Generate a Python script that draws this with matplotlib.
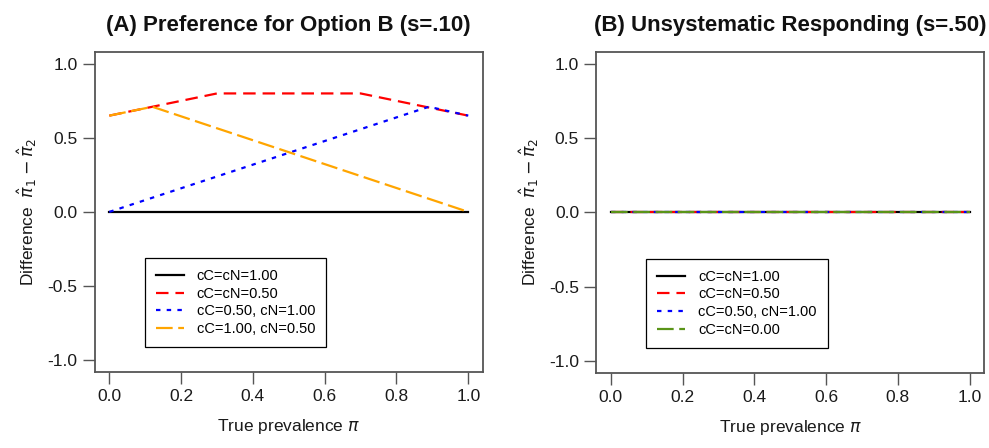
import numpy as np
import matplotlib
matplotlib.use("Agg")
import matplotlib.pyplot as plt

plt.rcParams['font.family'] = ['Liberation Sans', 'DejaVu Sans']
plt.rcParams['mathtext.fontset'] = 'dejavusans'
plt.rcParams['lines.scale_dashes'] = False

# data
pi_black = [0.0, 1.0]
diff_black = [0.0, 0.0]
pi_red = [0.0, 0.3, 0.7, 1.0]
diff_red = [0.65, 0.8, 0.8, 0.65]
pi_blue = [0.0, 0.89, 1.0]
diff_blue = [0.0, 0.71, 0.65]
pi_orange = [0.0, 0.12, 1.0]
diff_orange = [0.65, 0.71, 0.0]

pi_b = [0.0, 1.0]
diff_b = [0.0, 0.0]

labels_a = ['cC=cN=1.00', 'cC=cN=0.50', 'cC=0.50, cN=1.00', 'cC=1.00, cN=0.50']
labels_b = ['cC=cN=1.00', 'cC=cN=0.50', 'cC=0.50, cN=1.00', 'cC=cN=0.00']
titles = ['(A) Preference for Option B (s=.10)', '(B) Unsystematic Responding (s=.50)']
xticks = [0.0, 0.2, 0.4, 0.6, 0.8, 1.0]
yticks = [-1.0, -0.5, 0.0, 0.5, 1.0]

LW = 1.6
st_solid = '-'
st_dash = (0, (9, 5))
st_dot = (0, (3.2, 4.5))
st_long = (0, (12, 4))
green = '#5a9418'
frame_col = '#555555'

fig = plt.figure(figsize=(9.89, 4.48), dpi=100)
ax1 = fig.add_axes([0.096, 0.170, 0.392, 0.714])
ax2 = fig.add_axes([0.603, 0.168, 0.392, 0.716])

ax1.plot(pi_black, diff_black, color='black', lw=LW, ls=st_solid, label=labels_a[0])
ax1.plot(pi_red, diff_red, color='red', lw=LW, ls=st_dash, label=labels_a[1])
ax1.plot(pi_blue, diff_blue, color='blue', lw=LW, ls=st_dot, label=labels_a[2])
ax1.plot(pi_orange, diff_orange, color='orange', lw=LW, ls=st_long, label=labels_a[3])

ax2.plot(pi_b, diff_b, color='black', lw=LW, ls=st_solid, label=labels_b[0])
ax2.plot(pi_b, diff_b, color='red', lw=LW, ls=st_dash, label=labels_b[1])
ax2.plot(pi_b, diff_b, color='blue', lw=LW, ls=st_dot, label=labels_b[2])
ax2.plot(pi_b, diff_b, color=green, lw=LW, ls=st_long, label=labels_b[3])

for ax, t in zip([ax1, ax2], titles):
    ax.set_xlim(-0.04, 1.04)
    ax.set_ylim(-1.08, 1.08)
    ax.set_xticks(xticks)
    ax.set_yticks(yticks)
    ax.set_xticklabels(['%.1f' % v for v in xticks])
    ax.set_yticklabels(['%.1f' % v for v in yticks])
    ax.tick_params(direction='out', length=8.5, width=1.0, color=frame_col,
                   labelsize=12.5, pad=4, labelcolor='#1a1a1a')
    for s in ax.spines.values():
        s.set_color(frame_col)
        s.set_linewidth(1.3)
    ax.set_title(t, fontsize=16, fontweight='bold', pad=15, color='#111111')
    ax.set_xlabel(r'True prevalence $\pi$', fontsize=12.5, labelpad=9, color='#1a1a1a')
    ax.set_ylabel(r'Difference  $\hat{\pi}_1 - \hat{\pi}_2$', fontsize=12.5, labelpad=6,
                  color='#1a1a1a')
    leg = ax.legend(loc='lower left', bbox_to_anchor=(0.129, 0.078), fontsize=10.5,
                    frameon=True, fancybox=False, edgecolor='black', framealpha=1,
                    handlelength=1.9, handletextpad=0.9, labelspacing=0.25,
                    borderpad=0.75, borderaxespad=0)
    leg.get_frame().set_linewidth(0.9)

fig.savefig('out.png', dpi=100)
